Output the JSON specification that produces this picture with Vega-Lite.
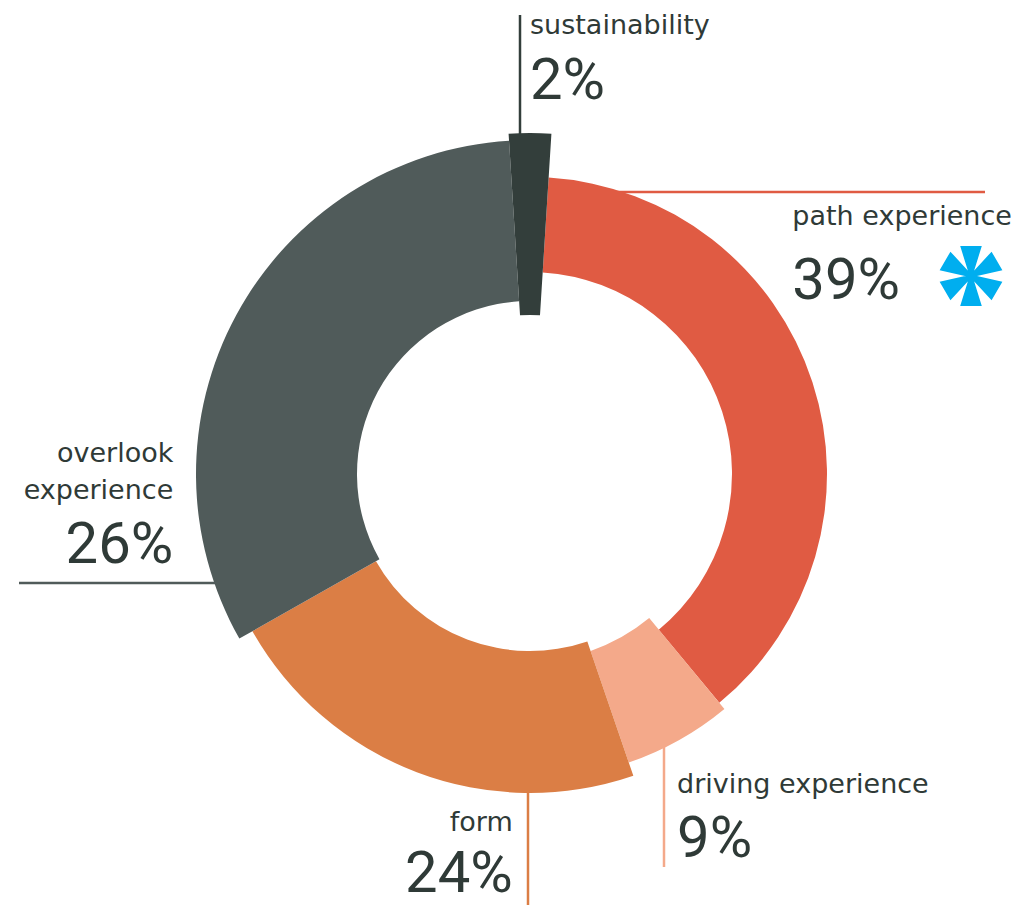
{
  "$schema": "https://vega.github.io/schema/vega-lite/v6.json",
  "autosize": "none",
  "width": 978,
  "height": 862,
  "padding": {"left": 41, "top": 43, "right": 0, "bottom": 0},
  "background": "white",
  "config": {"view": {"stroke": null}},
  "data": {
    "values": [
      {"segment": "sustainability", "pct": 2, "drawn_share": 2, "order": 1},
      {"segment": "path experience", "pct": 39, "drawn_share": 38, "order": 2},
      {"segment": "driving experience", "pct": 9, "drawn_share": 5.75, "order": 3},
      {"segment": "form", "pct": 24, "drawn_share": 22.05, "order": 4},
      {"segment": "overlook experience", "pct": 26, "drawn_share": 32.2, "order": 5}
    ]
  },
  "transform": [
    {"stack": "drawn_share", "groupby": [], "as": ["a0", "a1"], "sort": [{"field": "order", "order": "ascending"}]},
    {"calculate": "(datum.a0 + datum.a1) / 2", "as": "mid"},
    {"calculate": "datum.pct + '%'", "as": "pct_label"}
  ],
  "layer": [
    {
      "transform": [{"filter": "datum.segment === 'sustainability'"}],
      "mark": {"type": "rule", "strokeWidth": 2.5},
      "encoding": {
        "x": {"datum": -10, "type": "quantitative", "scale": {"domain": [-489, 489], "nice": false, "zero": false}, "axis": null},
        "x2": {"datum": -10},
        "y": {"datum": 300, "type": "quantitative", "scale": {"domain": [-431, 431], "nice": false, "zero": false}, "axis": null},
        "y2": {"datum": 459},
        "color": {"field": "segment", "type": "nominal", "scale": {"domain": ["sustainability", "path experience", "driving experience", "form", "overlook experience"], "range": ["#333E3B", "#E05B43", "#F4A98A", "#DB7E45", "#505B5A"]}, "legend": null}
      }
    },
    {
      "transform": [{"filter": "datum.segment === 'path experience'"}],
      "mark": {"type": "rule", "strokeWidth": 2.5},
      "encoding": {
        "x": {"datum": 60, "type": "quantitative", "scale": {"domain": [-489, 489], "nice": false, "zero": false}, "axis": null},
        "x2": {"datum": 455},
        "y": {"datum": 282, "type": "quantitative", "scale": {"domain": [-431, 431], "nice": false, "zero": false}, "axis": null},
        "y2": {"datum": 282},
        "color": {"field": "segment", "type": "nominal", "legend": null}
      }
    },
    {
      "transform": [{"filter": "datum.segment === 'driving experience'"}],
      "mark": {"type": "rule", "strokeWidth": 2.5},
      "encoding": {
        "x": {"datum": 134, "type": "quantitative", "scale": {"domain": [-489, 489], "nice": false, "zero": false}, "axis": null},
        "x2": {"datum": 134},
        "y": {"datum": -250, "type": "quantitative", "scale": {"domain": [-431, 431], "nice": false, "zero": false}, "axis": null},
        "y2": {"datum": -393},
        "color": {"field": "segment", "type": "nominal", "legend": null}
      }
    },
    {
      "transform": [{"filter": "datum.segment === 'form'"}],
      "mark": {"type": "rule", "strokeWidth": 2.5},
      "encoding": {
        "x": {"datum": -2, "type": "quantitative", "scale": {"domain": [-489, 489], "nice": false, "zero": false}, "axis": null},
        "x2": {"datum": -2},
        "y": {"datum": -300, "type": "quantitative", "scale": {"domain": [-431, 431], "nice": false, "zero": false}, "axis": null},
        "y2": {"datum": -431},
        "color": {"field": "segment", "type": "nominal", "legend": null}
      }
    },
    {
      "transform": [{"filter": "datum.segment === 'overlook experience'"}],
      "mark": {"type": "rule", "strokeWidth": 2.5},
      "encoding": {
        "x": {"datum": -511, "type": "quantitative", "scale": {"domain": [-489, 489], "nice": false, "zero": false}, "axis": null},
        "x2": {"datum": -300},
        "y": {"datum": -109, "type": "quantitative", "scale": {"domain": [-431, 431], "nice": false, "zero": false}, "axis": null},
        "y2": {"datum": -109},
        "color": {"field": "segment", "type": "nominal", "legend": null}
      }
    },
    {
      "transform": [{"filter": "datum.segment === 'path experience'"}],
      "mark": {"type": "arc", "radius": 297, "radius2": 202},
      "encoding": {
        "theta": {"field": "a0", "type": "quantitative", "stack": null, "scale": {"type": "linear", "domain": [0, 100], "range": [-0.0628318531, 6.2203534541], "zero": false, "nice": false}},
        "theta2": {"field": "a1"},
        "color": {"field": "segment", "type": "nominal", "legend": null}
      }
    },
    {
      "transform": [{"filter": "datum.segment === 'driving experience'"}],
      "mark": {"type": "arc", "radius": 305, "radius2": 187},
      "encoding": {
        "theta": {"field": "a0", "type": "quantitative", "stack": null, "scale": {"type": "linear", "domain": [0, 100], "range": [-0.0628318531, 6.2203534541], "zero": false, "nice": false}},
        "theta2": {"field": "a1"},
        "color": {"field": "segment", "type": "nominal", "legend": null}
      }
    },
    {
      "transform": [{"filter": "datum.segment === 'form'"}],
      "mark": {"type": "arc", "radius": 319, "radius2": 177},
      "encoding": {
        "theta": {"field": "a0", "type": "quantitative", "stack": null, "scale": {"type": "linear", "domain": [0, 100], "range": [-0.0628318531, 6.2203534541], "zero": false, "nice": false}},
        "theta2": {"field": "a1"},
        "color": {"field": "segment", "type": "nominal", "legend": null}
      }
    },
    {
      "transform": [{"filter": "datum.segment === 'overlook experience'"}],
      "mark": {"type": "arc", "radius": 334, "radius2": 173},
      "encoding": {
        "theta": {"field": "a0", "type": "quantitative", "stack": null, "scale": {"type": "linear", "domain": [0, 100], "range": [-0.0628318531, 6.2203534541], "zero": false, "nice": false}},
        "theta2": {"field": "a1"},
        "color": {"field": "segment", "type": "nominal", "legend": null}
      }
    },
    {
      "transform": [{"filter": "datum.segment === 'sustainability'"}],
      "mark": {"type": "arc", "radius": 341, "radius2": 159},
      "encoding": {
        "theta": {"field": "a0", "type": "quantitative", "stack": null, "scale": {"type": "linear", "domain": [0, 100], "range": [-0.0628318531, 6.2203534541], "zero": false, "nice": false}},
        "theta2": {"field": "a1"},
        "color": {"field": "segment", "type": "nominal", "legend": null}
      }
    },
    {
      "transform": [{"filter": "datum.segment === 'sustainability'"}],
      "mark": {"type": "text", "radius": 440, "align": "left", "baseline": "alphabetic", "font": "DejaVu Sans", "fontSize": 27, "color": "#2F3A37"},
      "encoding": {"theta": {"field": "mid", "type": "quantitative"}, "text": {"field": "segment"}}
    },
    {
      "transform": [{"filter": "datum.segment === 'sustainability'"}],
      "mark": {"type": "text", "radius": 375, "align": "left", "baseline": "alphabetic", "font": "Roboto", "fontSize": 58, "color": "#2F3A37"},
      "encoding": {"theta": {"field": "mid", "type": "quantitative"}, "text": {"field": "pct_label"}}
    },
    {
      "transform": [{"filter": "datum.segment === 'path experience'"}],
      "mark": {"type": "text", "radius": 300, "dx": -23, "dy": -156, "align": "left", "baseline": "alphabetic", "font": "DejaVu Sans", "fontSize": 27, "color": "#2F3A37"},
      "encoding": {"theta": {"field": "mid", "type": "quantitative"}, "text": {"field": "segment"}}
    },
    {
      "transform": [{"filter": "datum.segment === 'path experience'"}],
      "mark": {"type": "text", "radius": 300, "dx": -23, "dy": -82, "align": "left", "baseline": "alphabetic", "font": "Roboto", "fontSize": 58, "color": "#2F3A37"},
      "encoding": {"theta": {"field": "mid", "type": "quantitative"}, "text": {"field": "pct_label"}}
    },
    {
      "transform": [{"filter": "datum.segment === 'driving experience'"}],
      "mark": {"type": "text", "radius": 305, "dx": -2, "dy": 53, "align": "left", "baseline": "alphabetic", "font": "DejaVu Sans", "fontSize": 27, "color": "#2F3A37"},
      "encoding": {"theta": {"field": "mid", "type": "quantitative"}, "text": {"field": "segment"}}
    },
    {
      "transform": [{"filter": "datum.segment === 'driving experience'"}],
      "mark": {"type": "text", "radius": 305, "dx": -2, "dy": 117, "align": "left", "baseline": "alphabetic", "font": "Roboto", "fontSize": 58, "color": "#2F3A37"},
      "encoding": {"theta": {"field": "mid", "type": "quantitative"}, "text": {"field": "pct_label"}}
    },
    {
      "transform": [{"filter": "datum.segment === 'form'"}],
      "mark": {"type": "text", "radius": 319, "dx": 96, "dy": 59, "align": "right", "baseline": "alphabetic", "font": "DejaVu Sans", "fontSize": 27, "color": "#2F3A37"},
      "encoding": {"theta": {"field": "mid", "type": "quantitative"}, "text": {"field": "segment"}}
    },
    {
      "transform": [{"filter": "datum.segment === 'form'"}],
      "mark": {"type": "text", "radius": 319, "dx": 96, "dy": 120, "align": "right", "baseline": "alphabetic", "font": "Roboto", "fontSize": 58, "color": "#2F3A37"},
      "encoding": {"theta": {"field": "mid", "type": "quantitative"}, "text": {"field": "pct_label"}}
    },
    {
      "transform": [{"filter": "datum.segment === 'overlook experience'"}],
      "mark": {"type": "text", "radius": 334, "dx": -63, "dy": 147, "align": "right", "baseline": "alphabetic", "lineBreak": " ", "lineHeight": 37, "font": "DejaVu Sans", "fontSize": 27, "color": "#2F3A37"},
      "encoding": {"theta": {"field": "mid", "type": "quantitative"}, "text": {"field": "segment"}}
    },
    {
      "transform": [{"filter": "datum.segment === 'overlook experience'"}],
      "mark": {"type": "text", "radius": 334, "dx": -63, "dy": 248, "align": "right", "baseline": "alphabetic", "font": "Roboto", "fontSize": 58, "color": "#2F3A37"},
      "encoding": {"theta": {"field": "mid", "type": "quantitative"}, "text": {"field": "pct_label"}}
    },
    {
      "transform": [{"filter": "datum.segment === 'path experience'"}],
      "mark": {"type": "point", "filled": true, "opacity": 1, "strokeWidth": 0, "color": "#00AEEF", "size": 3600,
        "shape": "M-0.08,-0.1L-0.36,-1L0.36,-1L0.08,-0.1L0.0466,-0.1193L0.686,-0.8118L1.046,-0.1882L0.1266,0.0193L0.1266,-0.0193L1.046,0.1882L0.686,0.8118L0.0466,0.1193L0.08,0.1L0.36,1L-0.36,1L-0.08,0.1L-0.0466,0.1193L-0.686,0.8118L-1.046,0.1882L-0.1266,-0.0193L-0.1266,0.0193L-1.046,-0.1882L-0.686,-0.8118L-0.0466,-0.1193Z"},
      "encoding": {
        "x": {"datum": 441, "type": "quantitative", "scale": {"domain": [-489, 489], "nice": false, "zero": false}, "axis": null},
        "y": {"datum": 198, "type": "quantitative", "scale": {"domain": [-431, 431], "nice": false, "zero": false}, "axis": null}
      }
    }
  ]
}
